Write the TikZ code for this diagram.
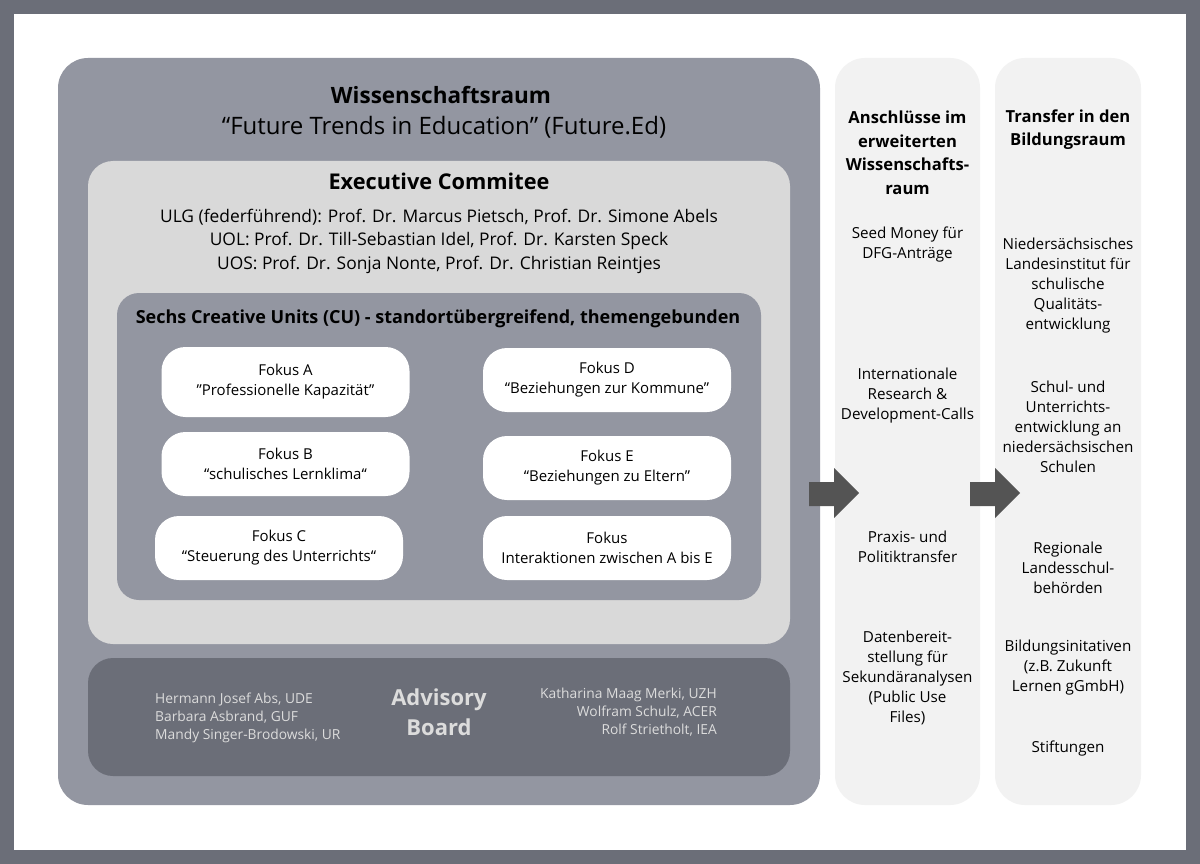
\documentclass[tikz,border=0pt]{standalone}
\usepackage{fontspec}
\setmainfont{Open Sans}
\usepackage{xcolor}
\definecolor{framegray}{HTML}{6B6E78}
\definecolor{spacegray}{HTML}{9396A1}
\definecolor{commgray}{HTML}{D9D9D9}
\definecolor{colgray}{HTML}{F2F2F2}
\definecolor{arrowgray}{HTML}{545454}
\definecolor{boardtext}{HTML}{DCDCDC}

\newcommand{\fs}[2]{\fontsize{#1}{#2}\selectfont}

\tikzset{
  panel/.style={inner sep=0pt, draw=none},
  fokusbox/.style={panel, fill=white, rounded corners=24pt,
    minimum width=248pt, align=center, font=\fs{15}{20}},
  colitem/.style={align=center, font=\fs{15.2}{20}, inner sep=0pt, yshift=-2.5pt},
  coltitle/.style={align=center, font=\bfseries\fs{16.6}{23.5}, inner sep=0pt,
    yshift=-1.5pt},
  boardname/.style={text=boardtext, font=\fs{13.8}{18}, inner sep=0pt}
}

\begin{document}
\begin{tikzpicture}[x=1pt, y=-1pt]
  \useasboundingbox (0,0) rectangle (1200,864);
  \fill[framegray] (0,0) rectangle (1200,864);
  \fill[white] (14,14) rectangle (1186,850);

  % Wissenschaftsraum
  \node[panel, fill=spacegray, rounded corners=30pt, minimum width=762pt,
        minimum height=747pt] (space) at (439,431.5) {};
  \node[font=\bfseries\fs{22.5}{26}] (spacetitle) at (441,95) {Wissenschaftsraum};
  \node[font=\fs{24}{28}] (spacesub) at (444,127)
    {“Future Trends in Education” (Future.Ed)};

  % Executive Commitee
  \node[panel, fill=commgray, rounded corners=25pt, minimum width=702pt,
        minimum height=483pt] (comm) at (439,402.5) {};
  \node[font=\bfseries\fs{21.7}{24}] (commtitle) at (439,181) {Executive Commitee};
  \node[align=center, font=\fs{17.4}{23.5}] (commnames) at (439,241)
    {ULG (federführend): Prof. Dr. Marcus Pietsch, Prof. Dr. Simone Abels\\
     UOL: Prof. Dr. Till-Sebastian Idel, Prof. Dr. Karsten Speck\\
     UOS: Prof. Dr. Sonja Nonte, Prof. Dr. Christian Reintjes};

  % Creative Units
  \node[panel, fill=spacegray, rounded corners=22pt, minimum width=644pt,
        minimum height=307pt] (cu) at (439,446.5) {};
  \node[font=\bfseries\fs{18}{20}] (cutitle) at (438,319)
    {Sechs Creative Units (CU) - standortübergreifend, themengebunden};
  \node[fokusbox, minimum height=70pt] (fokusA) at (285.5,382)
    {Fokus A\\”Professionelle Kapazität”};
  \node[fokusbox, minimum height=64pt] (fokusB) at (285.5,464)
    {Fokus B\\“schulisches Lernklima“};
  \node[fokusbox, minimum height=64pt] (fokusC) at (279,548)
    {Fokus C\\“Steuerung des Unterrichts“};
  \node[fokusbox, minimum height=64pt] (fokusD) at (607,380)
    {Fokus D\\“Beziehungen zur Kommune”};
  \node[fokusbox, minimum height=64pt] (fokusE) at (607,468)
    {Fokus E\\“Beziehungen zu Eltern”};
  \node[fokusbox, minimum height=64pt] (fokusF) at (607,548)
    {Fokus\\Interaktionen zwischen A bis E};

  % Advisory Board
  \node[panel, fill=framegray, rounded corners=25pt, minimum width=702pt,
        minimum height=118pt] (board) at (439,717) {};
  \node[align=center, text=boardtext, font=\bfseries\fs{22}{30}] (boardtitle)
    at (439,712) {Advisory\\Board};
  \node[boardname, anchor=west, align=left] (boardleft) at (155,717.5)
    {Hermann Josef Abs, UDE\\Barbara Asbrand, GUF\\Mandy Singer-Brodowski, UR};
  \node[boardname, anchor=east, align=right] (boardright) at (717,712)
    {Katharina Maag Merki, UZH\\Wolfram Schulz, ACER\\Rolf Strietholt, IEA};

  % Spalten rechts
  \node[panel, fill=colgray, rounded corners=30pt, minimum width=145pt,
        minimum height=747pt] (science) at (907.5,431.5) {};
  \node[panel, fill=colgray, rounded corners=30pt, minimum width=146pt,
        minimum height=747pt] (edu) at (1068,431.5) {};

  \node[coltitle] (sciencetitle) at (907.5,151.5)
    {Anschlüsse im\\erweiterten\\Wissenschafts-\\raum};
  \node[colitem] (seed) at (907.5,242) {Seed Money für\\DFG-Anträge};
  \node[colitem] (calls) at (907.5,393)
    {Internationale\\Research \&\\Development-Calls};
  \node[colitem] (praxis) at (907.5,544) {Praxis- und\\Politiktransfer};
  \node[colitem] (daten) at (907.5,675)
    {Datenbereit-\\stellung für\\Sekundäranalysen\\(Public Use\\Files)};

  \node[coltitle] (edutitle) at (1068,128) {Transfer in den\\Bildungsraum};
  \node[colitem] (nlq) at (1068,283.5)
    {Niedersächsisches\\Landesinstitut für\\schulische\\Qualitäts-\\entwicklung};
  \node[colitem] (schulen) at (1068,424)
    {Schul- und\\Unterrichts-\\entwicklung an\\niedersächsischen\\Schulen};
  \node[colitem] (behoerden) at (1068,565)
    {Regionale\\Landesschul-\\behörden};
  \node[colitem] (initiativen) at (1068,665.5)
    {Bildungsinitativen\\(z.B. Zukunft\\Lernen gGmbH)};
  \node[colitem] (stiftungen) at (1068,746) {Stiftungen};

  % Pfeile
  \fill[arrowgray] (809,482) -- (834,482) -- (834,468) -- (859,493)
    -- (834,518) -- (834,506) -- (809,506) -- cycle;
  \fill[arrowgray] (970,482) -- (995,482) -- (995,468) -- (1020,493)
    -- (995,518) -- (995,506) -- (970,506) -- cycle;
\end{tikzpicture}
\end{document}
